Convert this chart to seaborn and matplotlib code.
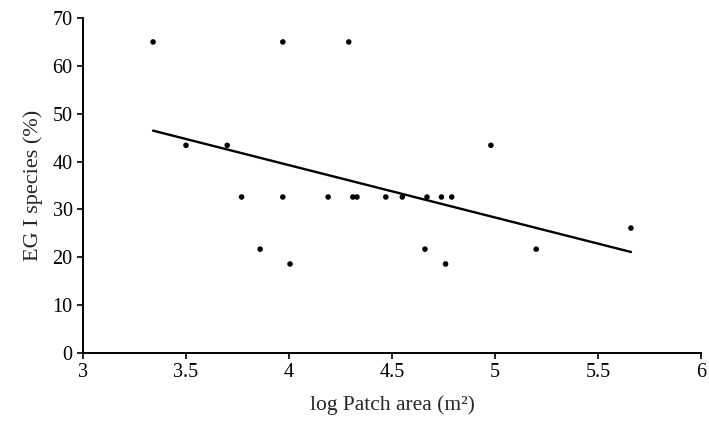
import matplotlib
matplotlib.use("Agg")
import matplotlib.pyplot as plt
import seaborn as sns
import numpy as np
import pandas as pd

# data
log_area = [3.34, 3.50, 3.70, 3.77, 3.86, 3.97, 3.97, 4.005, 4.19, 4.29,
            4.31, 4.33, 4.47, 4.55, 4.66, 4.67, 4.74, 4.76, 4.79, 4.98,
            5.20, 5.66]
eg1_pct = [65.0, 43.4, 43.4, 32.6, 21.7, 32.6, 65.0, 18.6, 32.6, 65.0,
           32.6, 32.6, 32.6, 32.6, 21.7, 32.6, 32.6, 18.6, 32.6, 43.4,
           21.7, 26.1]

# fitted trend line (slope, intercept) and its x range
fit_slope = -10.93
fit_intercept = 82.97
fit_x = [3.34, 5.66]

df = pd.DataFrame({"x": log_area, "y": eg1_pct})
fit_df = pd.DataFrame({"x": fit_x})
fit_df["y"] = fit_intercept + fit_slope * fit_df["x"]

sns.set_style("ticks")
plt.rcParams["font.family"] = ["Liberation Serif", "DejaVu Serif"]

fig = plt.figure(figsize=(7.09, 4.22), dpi=100)
ax = fig.add_axes([83 / 709, 69 / 422, 618 / 709, 335 / 422])

sns.scatterplot(data=df, x="x", y="y", ax=ax, color="black", s=16,
                edgecolor="none", zorder=3)
sns.lineplot(data=fit_df, x="x", y="y", ax=ax, color="black", linewidth=1.7)

ax.set_xlim(3, 6)
ax.set_ylim(0, 70)
ax.set_xticks(np.arange(3, 6.01, 0.5))
ax.set_xticklabels(["3", "3.5", "4", "4.5", "5", "5.5", "6"])
ax.set_yticks(range(0, 71, 10))
ax.tick_params(axis="both", labelsize=14.5, length=4, width=1.2,
               colors="black", direction="out")
for side in ["left", "bottom"]:
    ax.spines[side].set_linewidth(1.4)
    ax.spines[side].set_color("black")
ax.spines["top"].set_visible(False)
ax.spines["right"].set_visible(False)

ax.set_xlabel("log Patch area (m²)", fontsize=15.5, labelpad=9)
ax.set_ylabel("EG I species (%)", fontsize=16, labelpad=7)

fig.savefig("out.png", dpi=100)
